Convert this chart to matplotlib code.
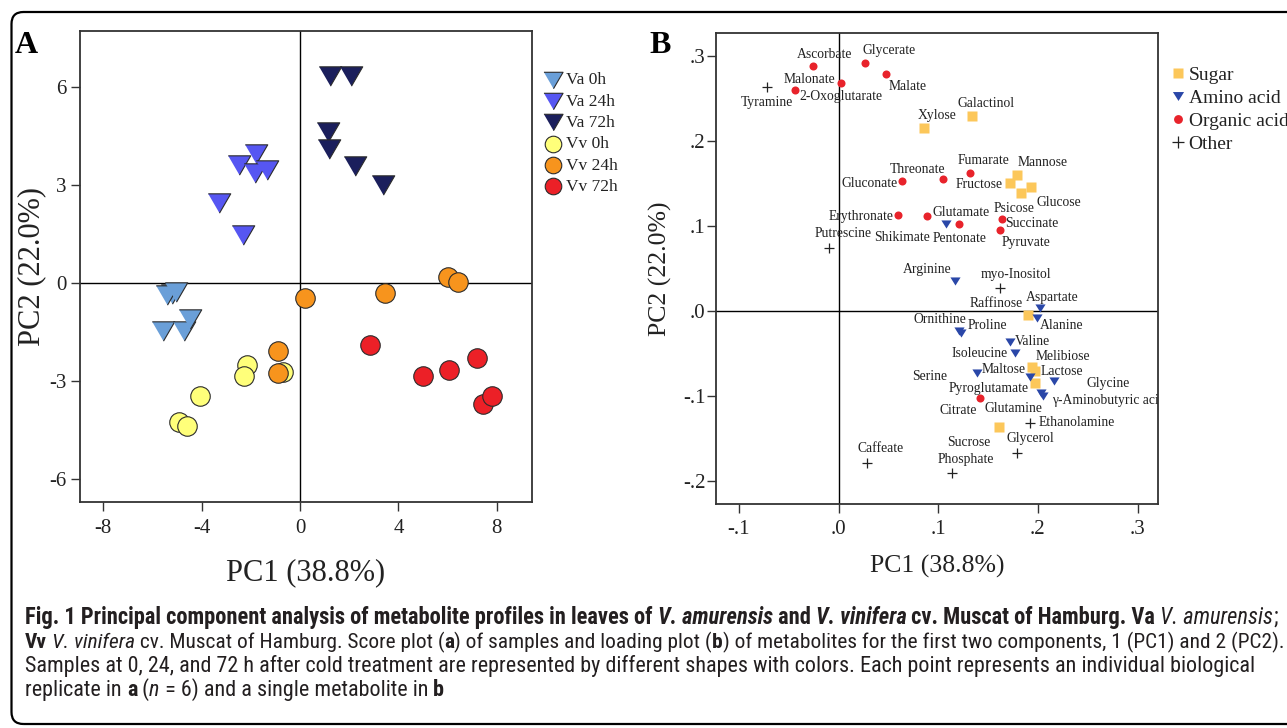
import matplotlib
matplotlib.use("Agg")
import matplotlib.pyplot as plt
from matplotlib import font_manager
from matplotlib.patches import FancyBboxPatch
from matplotlib.transforms import IdentityTransform

W, H, DPI = 1287, 728, 100

# ---------------- Panel A: PCA scores (PC1, PC2) ----------------
groups_a = ["Va 0h", "Va 24h", "Va 72h", "Vv 0h", "Vv 24h", "Vv 72h"]
va0_pc1 = [-5.20, -5.39, -5.02, -5.56, -4.73, -4.48]
va0_pc2 = [-0.35, -0.38, -0.28, -1.49, -1.49, -1.11]
va24_pc1 = [-1.77, -2.49, -1.82, -1.33, -3.28, -2.32]
va24_pc2 = [3.94, 3.60, 3.35, 3.45, 2.45, 1.46]
va72_pc1 = [1.21, 2.07, 1.13, 1.16, 2.24, 3.37]
va72_pc2 = [6.33, 6.33, 4.60, 4.09, 3.58, 3.00]
vv0_pc1 = [-2.16, -2.27, -4.06, -4.93, -4.61, -0.68]
vv0_pc2 = [-2.51, -2.85, -3.48, -4.27, -4.38, -2.72]
vv24_pc1 = [0.22, 3.45, 6.00, 6.42, -0.88, -0.88]
vv24_pc2 = [-0.46, -0.31, 0.18, 0.03, -2.10, -2.76]
vv72_pc1 = [2.85, 5.01, 6.07, 7.20, 7.45, 7.79]
vv72_pc2 = [-1.90, -2.85, -2.66, -2.31, -3.70, -3.46]
ticks_a_x = [-8, -4, 0, 4, 8]
ticks_a_y = [-6, -3, 0, 3, 6]

# ---------------- Panel B: PCA loadings ----------------
classes_b = ["Sugar", "Amino acid", "Organic acid", "Other"]
sugar_names = ["Xylose", "Galactinol", "Mannose", "Fructose", "Glucose", "Psicose",
               "Raffinose", "Melibiose", "Maltose", "Lactose", "Sucrose"]
sugar_pc1 = [0.0854, 0.1339, 0.1792, 0.1717, 0.1933, 0.1829, 0.1896, 0.1937, 0.1973, 0.1970, 0.1608]
sugar_pc2 = [0.2155, 0.2304, 0.1609, 0.1515, 0.1461, 0.1398, -0.0041, -0.0649, -0.0696, -0.0845, -0.1362]

amino_names = ["Glutamate", "Arginine", "Aspartate", "Alanine", "Ornithine", "Proline",
               "Valine", "Isoleucine", "Serine", "Pyroglutamate", "Glycine",
               "\u03b3-Aminobutyric acid", "Glutamine"]
amino_pc1 = [0.1083, 0.1170, 0.2017, 0.1990, 0.1210, 0.1230, 0.1719, 0.1769, 0.1394, 0.1920, 0.2161, 0.2053, 0.2030]
amino_pc2 = [0.1026, 0.0359, 0.0045, -0.0080, -0.0230, -0.0249, -0.0355, -0.0492, -0.0727, -0.0774, -0.0818, -0.0994, -0.0959]

organic_names = ["Ascorbate", "Glycerate", "Malate", "Malonate", "2-Oxoglutarate",
                 "Threonate", "Gluconate", "Fumarate", "Erythronate", "Shikimate",
                 "Pentonate", "Succinate", "Pyruvate", "Citrate"]
organic_pc1 = [-0.0260, 0.0269, 0.0477, 0.0029, -0.0432, 0.1045, 0.0635, 0.1315, 0.0597, 0.0883, 0.1210, 0.1636, 0.1618, 0.1418]
organic_pc2 = [0.2890, 0.2927, 0.2798, 0.2692, 0.2606, 0.1559, 0.1539, 0.1633, 0.1139, 0.1124, 0.1033, 0.1085, 0.0959, -0.1021]

other_names = ["Tyramine", "Putrescine", "myo-Inositol", "Ethanolamine", "Glycerol",
               "Caffeate", "Phosphate"]
other_pc1 = [-0.0718, -0.0098, 0.1625, 0.1920, 0.1792, 0.0282, 0.1137]
other_pc2 = [0.2637, 0.0751, 0.0273, -0.1308, -0.1661, -0.1778, -0.1904]

ticks_b_x = [-0.1, 0.0, 0.1, 0.2, 0.3]
ticks_b_x_labels = ["-.1", ".0", ".1", ".2", ".3"]
ticks_b_y = [-0.2, -0.1, 0.0, 0.1, 0.2, 0.3]
ticks_b_y_labels = ["-.2", "-.1", ".0", ".1", ".2", ".3"]

# label placement (layout): offset of each label from its point, in pixels (dx right, dy down)
label_offsets = {
    "Xylose": (13.6, -13), "Galactinol": (14, -12.3), "Mannose": (25.6, -12.4),
    "Fructose": (-31, 2.3), "Glucose": (28.1, 15), "Psicose": (-7, 16.3),
    "Raffinose": (-31.3, -11), "Melibiose": (31.6, -10), "Maltose": (-31.3, -1.4),
    "Lactose": (26.7, -11.6), "Sucrose": (-29.7, 15.3),
    "Glutamate": (14.3, -12), "Arginine": (-28, -11.7), "Aspartate": (12.6, -10.3),
    "Alanine": (24.7, 7.3), "Ornithine": (-19, -12), "Proline": (26.4, -7),
    "Valine": (22.3, 0), "Isoleucine": (-35, 0), "Serine": (-47.7, 3.3),
    "Pyroglutamate": (-41.7, 11.4), "Glycine": (54.3, 2.3),
    "\u03b3-Aminobutyric acid": (9, 4.7), "Glutamine": (-27, 15.3),
    "Ascorbate": (11.6, -11.7), "Glycerate": (23.6, -12), "Malate": (21.5, 13.3),
    "Malonate": (-32.3, -2.7), "2-Oxoglutarate": (45, 6.7), "Threonate": (-25.2, -9.7),
    "Gluconate": (-32.2, 3), "Fumarate": (14, -12), "Erythronate": (-37.3, 2),
    "Shikimate": (-25, 21.3), "Pentonate": (0, 14.6), "Succinate": (30.6, 4),
    "Pyruvate": (26.7, 12.7), "Citrate": (-21.7, 12.4),
    "Tyramine": (0, 15.3), "Putrescine": (14.3, -14.3), "myo-Inositol": (15.3, -13.7),
    "Ethanolamine": (46.7, 0), "Glycerol": (13.3, -14.3), "Caffeate": (14, -14.3),
    "Phosphate": (14.4, -14),
}
left_aligned = {"\u03b3-Aminobutyric acid"}

# ---------------- styles ----------------
SERIF = ["Liberation Serif", "DejaVu Serif"]
plt.rcParams["font.family"] = SERIF
plt.rcParams["axes.unicode_minus"] = False
colors_a = ["#6a9fd8", "#5656f2", "#1b1f5c", "#ffff7a", "#f7941d", "#ec2027"]
tri_down = [(-1, 0.86), (1, 0.86), (0, -0.86)]
markers_a = [tri_down, tri_down, tri_down, "o", "o", "o"]
sizes_a = [262, 262, 262, 197, 197, 197]
col_b = {"Sugar": "#fcc75a", "Amino acid": "#2a47a8", "Organic acid": "#e8232b", "Other": "black"}
spine_col = "#333333"
txt_col = "#222222"

# caption font: prefer a condensed humanist sans if installed
installed = {f.name for f in font_manager.fontManager.ttflist}
cap_first = next((f for f in ["Liberation Sans Narrow", "Roboto Condensed",
                              "Open Sans Condensed", "Roboto", "Open Sans"]
                  if f in installed), "DejaVu Sans")
CAP = [cap_first, "DejaVu Sans"]

fig = plt.figure(figsize=(W / DPI, H / DPI), dpi=DPI)
fig.patch.set_facecolor("white")


def px_rect(l, t, r, b):
    return [l / W, 1 - b / H, (r - l) / W, (b - t) / H]


def style_axes(ax, lw=1.3):
    for s in ax.spines.values():
        s.set_color(spine_col)
        s.set_linewidth(lw)
    ax.tick_params(which="both", direction="out", length=6.5, width=1.0,
                   color=spine_col, labelcolor=txt_col, labelsize=15,
                   top=False, right=False)
    ax.axhline(0, color="black", lw=1.0, zorder=1)
    ax.axvline(0, color="black", lw=1.0, zorder=1)


# ---------------- Panel A ----------------
axA = fig.add_axes(px_rect(80, 31, 532, 502))
style_axes(axA)
xs_a = [va0_pc1, va24_pc1, va72_pc1, vv0_pc1, vv24_pc1, vv72_pc1]
ys_a = [va0_pc2, va24_pc2, va72_pc2, vv0_pc2, vv24_pc2, vv72_pc2]
for g, x, y, c, m, s in zip(groups_a, xs_a, ys_a, colors_a, markers_a, sizes_a):
    axA.scatter(x, y, s=s, marker=m, facecolor=c, edgecolor="#2b2b2b",
                linewidth=0.8, label=g, zorder=3)
axA.set_xlim(-8.94, 9.43)
axA.set_ylim(-6.71, 7.70)
axA.set_xticks(ticks_a_x)
axA.set_yticks(ticks_a_y)
axA.tick_params(axis="x", pad=6)
axA.tick_params(axis="y", pad=3)
axA.set_xlabel("PC1 (38.8%)", fontsize=22, color=txt_col, va="center")
axA.xaxis.set_label_coords(0.5, -0.151)
axA.set_ylabel("PC2 (22.0%)", fontsize=22, color=txt_col, va="center")
axA.yaxis.set_label_coords(-0.106, 0.5)
axA.legend(loc="upper left", bbox_to_anchor=(542.6 / W, 1 - 72 / H),
           bbox_transform=fig.transFigure, frameon=False,
           prop=dict(family=SERIF, size=12.5), markerscale=0.85,
           handlelength=1.2, handletextpad=0.15, labelspacing=0.3,
           borderpad=0, borderaxespad=0, labelcolor=txt_col)

# ---------------- Panel B ----------------
axB = fig.add_axes(px_rect(716, 33, 1158, 504))
style_axes(axB)
tri_b = [(-1, 0.8), (1, 0.8), (0, -0.8)]
handles = []
h = axB.plot(sugar_pc1, sugar_pc2, ls="none", marker="s", ms=7.0, mfc=col_b["Sugar"],
             mec="none", label="Sugar", zorder=3)[0]
handles.append(h)
h = axB.plot(amino_pc1, amino_pc2, ls="none", marker=tri_b, ms=7.3, mfc=col_b["Amino acid"],
             mec="none", label="Amino acid", zorder=4)[0]
handles.append(h)
h = axB.plot(organic_pc1, organic_pc2, ls="none", marker="o", ms=5.8, mfc=col_b["Organic acid"],
             mec="none", label="Organic acid", zorder=5)[0]
handles.append(h)
h = axB.plot(other_pc1, other_pc2, ls="none", marker="+", ms=7.5, mew=0.9, color="#222222",
             label="Other", zorder=6)[0]
handles.append(h)

all_names = sugar_names + amino_names + organic_names + other_names
all_x = sugar_pc1 + amino_pc1 + organic_pc1 + other_pc1
all_y = sugar_pc2 + amino_pc2 + organic_pc2 + other_pc2
for n, x, y in zip(all_names, all_x, all_y):
    dx, dy = label_offsets[n]
    axB.annotate(n, (x, y), xytext=(dx, -dy), textcoords="offset pixels",
                 ha="left" if n in left_aligned else "center", va="center",
                 fontsize=9.8, color=txt_col, clip_on=True, zorder=7)

axB.set_xlim(-0.1229, 0.3205)
axB.set_ylim(-0.2265, 0.3276)
axB.set_xticks(ticks_b_x)
axB.set_xticklabels(ticks_b_x_labels)
axB.set_yticks(ticks_b_y)
axB.set_yticklabels(ticks_b_y_labels)
axB.tick_params(axis="x", pad=5)
axB.tick_params(axis="y", pad=1)
axB.set_xlabel("PC1 (38.8%)", fontsize=18.5, color=txt_col, va="center")
axB.xaxis.set_label_coords(0.5, -0.133)
axB.set_ylabel("PC2 (22.0%)", fontsize=18.5, color=txt_col, va="center")
axB.yaxis.set_label_coords(-0.125, 0.5)
axB.legend(handles=handles, loc="upper left", bbox_to_anchor=(1172 / W, 1 - 66 / H),
           bbox_transform=fig.transFigure, frameon=False,
           prop=dict(family=SERIF, size=14), markerscale=1.1,
           handlelength=0.6, handletextpad=0.26, labelspacing=0.28,
           borderpad=0, borderaxespad=0, labelcolor=txt_col)

# panel letters
ID = IdentityTransform()
fig.text(14.7, H - 53.3, "A", transform=ID, fontsize=23, fontweight="bold",
         color="black", va="baseline", ha="left")
fig.text(649, H - 52.7, "B", transform=ID, fontsize=23, fontweight="bold",
         color="black", va="baseline", ha="left")

# rounded frame around figure + caption
frame = FancyBboxPatch((11.5, H - 724), 1400, 712,
                       boxstyle="round,pad=0,rounding_size=12",
                       transform=ID, fill=False, lw=1.6, ec="black")
fig.add_artist(frame)

# ---------------- caption ----------------
cap_col = "#231f20"
B_, N_, I_ = ("bold", "normal"), ("normal", "normal"), ("normal", "italic")
BI_ = ("bold", "italic")
cap_lines = [
    [("Fig. 1 Principal component analysis of metabolite profiles in leaves of ", B_),
     ("V. amurensis", BI_), (" and ", B_), ("V. vinifera", BI_),
     (" cv. Muscat of Hamburg. Va ", B_), ("V. amurensis", I_), (";", N_)],
    [("Vv", B_), (" ", N_), ("V. vinifera", I_),
     (" cv. Muscat of Hamburg. Score plot (", N_), ("a", B_),
     (") of samples and loading plot (", N_), ("b", B_),
     (") of metabolites for the first two components, 1 (PC1) and 2 (PC2).", N_)],
    [("Samples at 0, 24, and 72 h after cold treatment are represented by different "
      "shapes with colors. Each point represents an individual biological", N_)],
    [("replicate in ", N_), ("a", B_), (" (", N_), ("n", I_),
     (" = 6) and a single metabolite in ", N_), ("b", B_)],
]
cap_x0 = 25
cap_base = [624, 648, 672, 696]
renderer = fig.canvas.get_renderer()


def seg_w(text, style, size):
    w_, s_ = style
    t = fig.text(0, 0, text + "|", transform=ID, family=CAP, fontsize=size,
                 fontweight=w_, fontstyle=s_)
    w1 = t.get_window_extent(renderer).width
    t.set_text("|")
    w2 = t.get_window_extent(renderer).width
    t.remove()
    return w1 - w2


def line_w(segs, size):
    return sum(seg_w(tx, st, size) for tx, st in segs)


size1 = 10 * 1258 / line_w(cap_lines[0], 10)
size2 = 10 * 1256 / line_w(cap_lines[1], 10)
size3 = 10 * 1225 / line_w(cap_lines[2], 10)
sizes = [size1, size2, size3, size3]
for segs, yb, sz in zip(cap_lines, cap_base, sizes):
    x = cap_x0
    for tx, (w_, s_) in segs:
        fig.text(x, H - yb, tx, transform=ID, family=CAP, fontsize=sz,
                 fontweight=w_, fontstyle=s_, color=cap_col, va="baseline", ha="left")
        x += seg_w(tx, (w_, s_), sz)

fig.savefig("out.png", dpi=DPI, facecolor="white")
